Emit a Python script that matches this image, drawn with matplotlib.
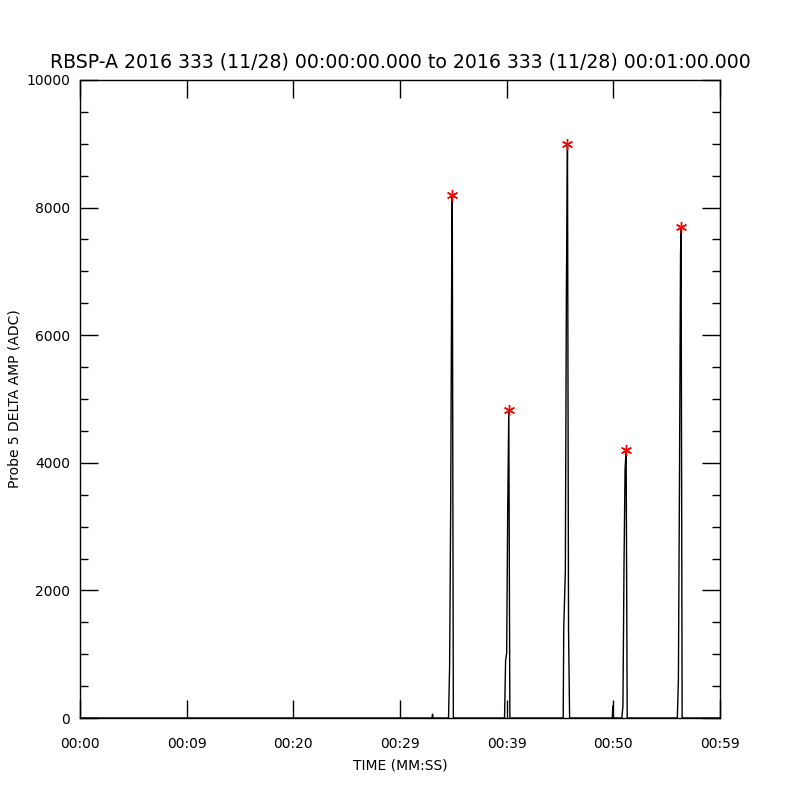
import numpy as np
import matplotlib
matplotlib.use('Agg')
import matplotlib.pyplot as plt

# seconds since 00:00:00 and delta amplitude (ADC)
t = [0.0, 33.0, 33.05, 33.1,
     34.55, 34.65, 34.75, 34.85, 34.9, 35.0,
     39.8, 39.9, 40.0, 40.1, 40.2, 40.3,
     45.3, 45.35, 45.5, 45.6, 45.7, 45.8, 45.9,
     49.9, 49.95, 50.0,
     50.8, 50.9, 51.0, 51.1, 51.2, 51.3,
     56.0, 56.1, 56.2, 56.3, 56.35, 56.45,
     60.0]
amp = [0, 0, 60, 0,
       0, 800, 3250, 7150, 8200, 0,
       0, 900, 1020, 3320, 4830, 0,
       0, 1400, 2290, 6740, 9000, 1400, 0,
       0, 190, 0,
       0, 190, 2380, 3900, 4200, 0,
       0, 600, 3700, 7260, 7690, 0,
       0]

peak_t = [34.9, 40.2, 45.7, 51.2, 56.35]
peak_amp = [8200, 4830, 9000, 4200, 7690]

xticks = [0, 10, 20, 30, 40, 50, 60]
xlabels = ['00:00', '00:09', '00:20', '00:29', '00:39', '00:50', '00:59']

fig = plt.figure(figsize=(8, 8), dpi=100)
ax = fig.add_axes([0.1, 0.1025, 0.8, 0.7975])

ax.plot(t, amp, c='black', lw=1)
ax.plot(peak_t, peak_amp, ls='none', marker=(6, 2, 0), c='red', ms=8, mew=1)

ax.set_xlim(0, 60)
ax.set_ylim(0, 10000)
ax.set_xticks(xticks)
ax.set_xticklabels(xlabels)
ax.set_yticks(np.arange(0, 10001, 2000))
ax.set_yticks(np.arange(0, 10001, 500), minor=True)

ax.tick_params(direction='in', top=True, right=True, length=13, width=1,
               labelsize=10)
ax.tick_params(axis='x', pad=14)
ax.tick_params(axis='y', pad=7)
ax.tick_params(which='minor', direction='in', right=True, length=6, width=1)
for s in ax.spines.values():
    s.set_linewidth(1)

ax.set_title('RBSP-A 2016 333 (11/28) 00:00:00.000 to 2016 333 (11/28) 00:01:00.000',
             fontsize=13.6, pad=9)
ax.set_xlabel('TIME (MM:SS)', fontsize=10, labelpad=5)
ax.set_ylabel('Probe 5 DELTA AMP (ADC)', fontsize=10, va='center')
ax.yaxis.set_label_coords(-0.102, 0.5)

fig.savefig('out.png', dpi=100)
